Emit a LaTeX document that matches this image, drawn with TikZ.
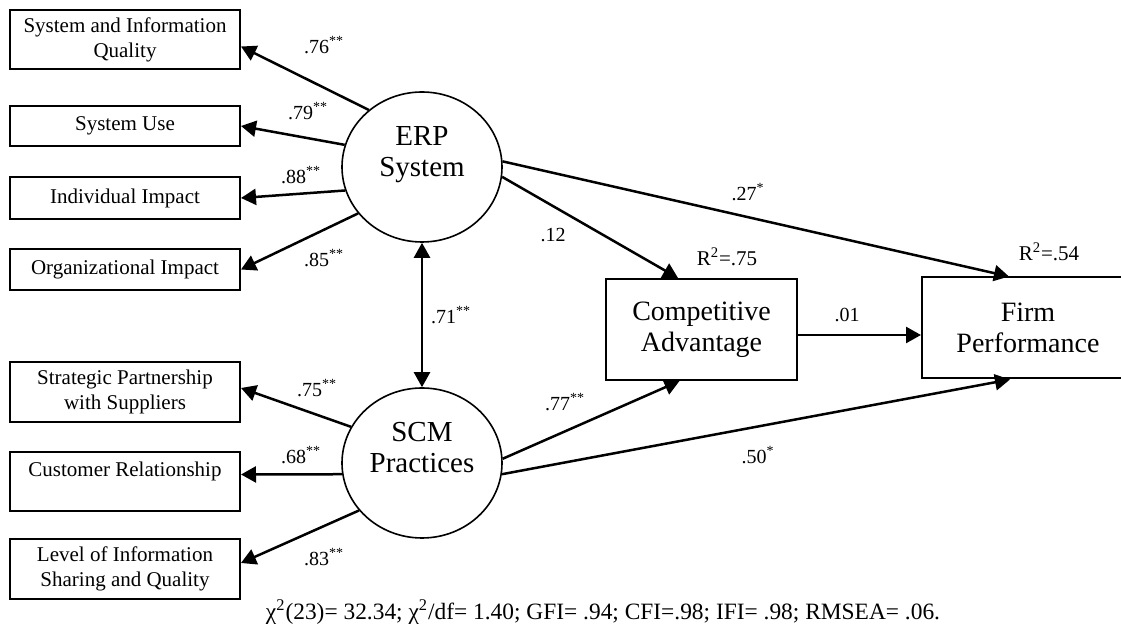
\documentclass[tikz,border=0pt]{standalone}
\usepackage{fontspec}
\setmainfont{Liberation Serif}
\usetikzlibrary{arrows.meta,shapes.geometric}
\begin{document}
\begin{tikzpicture}[x=0.5pt,y=-0.5pt,
  ind/.style={draw, line width=1pt, minimum width=115pt, inner sep=0pt, align=center, font=\fontsize{10.5}{12.5}\selectfont},
  lat/.style={draw, ellipse, line width=0.8pt, minimum width=80pt, minimum height=75pt, inner sep=0pt, align=center, font=\fontsize{14.5}{15.5}\selectfont},
  dep/.style={draw, line width=1pt, inner sep=0pt, align=center, minimum height=50.5pt, font=\fontsize{14}{15.5}\selectfont},
  path/.style={line width=1.25pt, -{Triangle[length=7.5pt,width=8pt]}},
  coef/.style={font=\fontsize{10}{12}\selectfont, inner sep=1pt}]
\useasboundingbox (0,0) rectangle (1121,630);
\node[ind, minimum height=29.5pt] (siq) at (125,39.5){System and Information\\Quality};
\node[ind, minimum height=20pt] (su) at (125,126){System Use};
\node[ind, minimum height=21pt] (ii) at (125,198){Individual Impact};
\node[ind, minimum height=20.5pt] (oi) at (125,269.5){Organizational Impact};
\node[ind, minimum height=30pt] (sps) at (125,392){Strategic Partnership\\with Suppliers};
\node[ind, minimum height=29.5pt] (cr) at (125,481.5){Customer Relationship\\~};
\node[ind, minimum height=30pt] (lis) at (125,569){Level of Information\\Sharing and Quality};
\node[lat] (erp) at (422,167){ERP\\System\\~};
\node[lat] (scm) at (422,463){SCM\\Practices\\~};
\node[dep, minimum width=95.5pt] (ca) at (701.5,329.5){Competitive\\Advantage};
\node[dep, minimum width=106pt] (fp) at (1028,328){Firm\\Performance};
\draw[path] (erp.133) -- ([yshift=-3.5pt]siq.east);
\draw[path] (erp.164) -- (su.east);
\draw[path] (erp.197) -- (ii.east);
\draw[path] (erp.216) -- (oi.east);
\draw[path] (scm.153) -- ([yshift=2pt]sps.east);
\draw[path] (scm.188) -- ([yshift=3.5pt]cr.east);
\draw[path] (scm.217) -- ([yshift=3pt]lis.east);
\draw[line width=1.25pt, {Triangle[length=7.5pt,width=8pt]}-{Triangle[length=7.5pt,width=8pt]}] (erp.south) -- (scm.north);
\draw[path] (erp.-7) -- ([xshift=-11.75pt]ca.north);
\draw[path] (erp.4) -- ([xshift=-9.5pt]fp.north);
\draw[path] (scm.3) -- ([xshift=-11pt]ca.south);
\draw[path] (scm.-8) -- ([xshift=-9pt]fp.south);
\draw[path] ([yshift=-2.75pt]ca.east) -- ([yshift=-2.75pt]ca.east -| fp.west);
\node[coef] (l1) at (324,45){.76\textsuperscript{**}};
\node[coef] (l2) at (308,111){.79\textsuperscript{**}};
\node[coef] (l3) at (301,175){.88\textsuperscript{**}};
\node[coef] (l4) at (324,258){.85\textsuperscript{**}};
\node[coef] (l5) at (451,315){.71\textsuperscript{**}};
\node[coef] (l6) at (317,388){.75\textsuperscript{**}};
\node[coef] (l7) at (301,455){.68\textsuperscript{**}};
\node[coef] (l8) at (324,557){.83\textsuperscript{**}};
\node[coef] (l9) at (553,235){.12};
\node[coef] (l10) at (748,192){.27\textsuperscript{*}};
\node[coef] (l11) at (565,402){.77\textsuperscript{**}};
\node[coef] (l12) at (758,455){.50\textsuperscript{*}};
\node[coef] (l13) at (847,315){.01};
\node[coef, font=\fontsize{10.5}{12}\selectfont] (r1) at (727,257){R\textsuperscript{2}=.75};
\node[coef, font=\fontsize{10.5}{12}\selectfont] (r2) at (1049,252){R\textsuperscript{2}=.54};
\node[coef, font=\fontsize{11.7}{13}\selectfont] (fit) at (603,612){χ\textsuperscript{2}(23)= 32.34; χ\textsuperscript{2}/df= 1.40; GFI= .94; CFI=.98; IFI= .98; RMSEA= .06.};
\end{tikzpicture}
\end{document}
